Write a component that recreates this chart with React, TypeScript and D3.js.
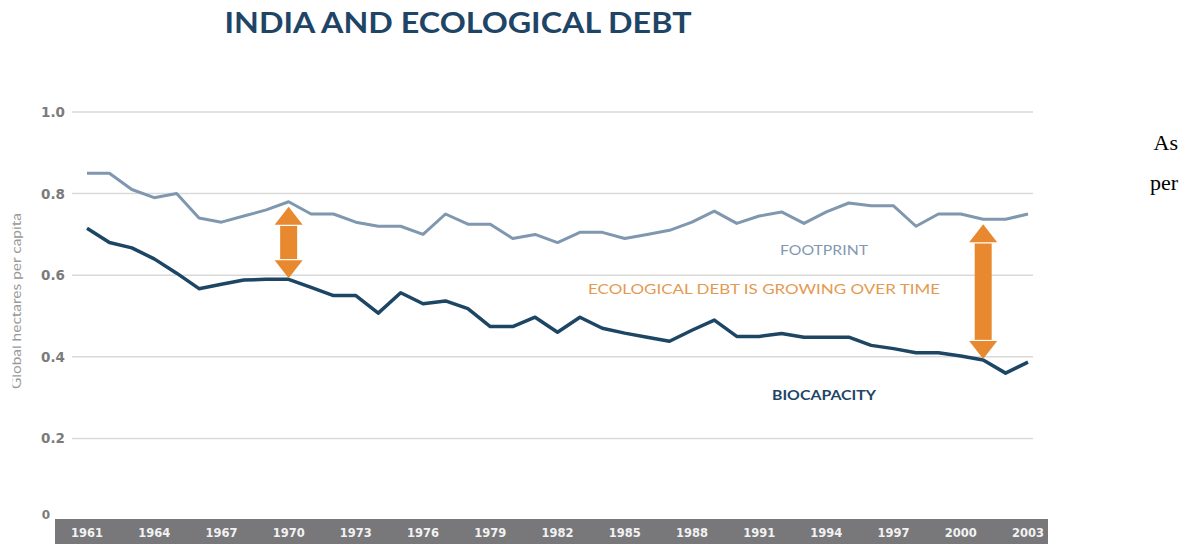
import React from "react";
import * as d3 from "d3";

const years: number[] = d3.range(1961, 2004);
const footprint: number[] = [
  0.85, 0.85, 0.81, 0.79, 0.8, 0.74, 0.73, 0.745, 0.76, 0.78,
  0.75, 0.75, 0.73, 0.72, 0.72, 0.7, 0.75, 0.725, 0.725, 0.69,
  0.7, 0.68, 0.705, 0.705, 0.69, 0.7, 0.71, 0.73, 0.757, 0.727,
  0.745, 0.755, 0.727, 0.755, 0.777, 0.77, 0.77, 0.72, 0.75, 0.75,
  0.737, 0.737, 0.75,
];
const biocapacity: number[] = [
  0.715, 0.68, 0.667, 0.64, 0.605, 0.567, 0.578, 0.588, 0.59, 0.59,
  0.57, 0.55, 0.55, 0.507, 0.557, 0.53, 0.537, 0.518, 0.474, 0.474,
  0.497, 0.46, 0.497, 0.47, 0.458, 0.448, 0.438, 0.465, 0.49, 0.45,
  0.45, 0.457, 0.448, 0.448, 0.448, 0.428, 0.42, 0.41, 0.41, 0.402,
  0.392, 0.36, 0.387,
];
const tickYears: number[] = d3.range(1961, 2004, 3);
const yTicks: number[] = [0.2, 0.4, 0.6, 0.8, 1.0];
const arrowYears: number[] = [1970, 2001];
const arrowTop: number[] = [0.78, 0.737];
const arrowBottom: number[] = [0.59, 0.392];

const W = 1185;
const H = 544;

export default function App() {
  const x = d3.scaleLinear().domain([1961, 2003]).range([87, 1028]);
  const y = d3.scaleLinear().domain([0, 1]).range([520, 112]);
  const line = d3
    .line<number>()
    .x((_, i) => x(years[i]))
    .y((d) => y(d));

  const arrow = (cx: number, yt: number, yb: number, key: number) => {
    const hh = 18;
    const hw = 14;
    const sw = 8.5;
    const gap = 1.2;
    return (
      <g key={key} fill="#e8892f">
        <polygon points={`${cx},${yt} ${cx - hw},${yt + hh} ${cx + hw},${yt + hh}`} />
        <rect x={cx - sw} y={yt + hh + gap} width={sw * 2} height={yb - yt - 2 * hh - 2 * gap} />
        <polygon points={`${cx},${yb} ${cx - hw},${yb - hh} ${cx + hw},${yb - hh}`} />
      </g>
    );
  };

  return (
    <svg
      width={W}
      height={H}
      style={{ position: "absolute", left: 0, top: 0, background: "#fff" }}
    >
      <defs>
        <clipPath id="ylab">
          <rect x={12.5} y={0} width={40} height={H} />
        </clipPath>
      </defs>
      <rect x={0} y={0} width={W} height={H} fill="#fff" />

      <text
        x={458}
        y={33}
        textAnchor="middle"
        fontFamily="Lato, sans-serif"
        fontWeight={700}
        fontSize={28}
        fill="#1f4566"
        textLength={467}
        lengthAdjust="spacingAndGlyphs"
      >
        INDIA AND ECOLOGICAL DEBT
      </text>

      {/* gridlines */}
      {yTicks.map((t) => (
        <line key={t} x1={72} x2={1033} y1={y(t)} y2={y(t)} stroke="#d9d9d9" strokeWidth={1.5} />
      ))}
      {yTicks.map((t) => (
        <text
          key={"l" + t}
          x={65}
          y={y(t) + 5}
          textAnchor="end"
          fontFamily="DejaVu Sans, sans-serif"
          fontWeight={700}
          fontSize={13.5}
          fill="#7b7b7b"
        >
          {t.toFixed(1)}
        </text>
      ))}
      <text
        x={50}
        y={519}
        textAnchor="end"
        fontFamily="DejaVu Sans, sans-serif"
        fontWeight={700}
        fontSize={12}
        fill="#7b7b7b"
      >
        0
      </text>

      <g clipPath="url(#ylab)">
        <text
          transform="translate(20.5,301) rotate(-90)"
          textAnchor="middle"
          fontFamily="Lato, sans-serif"
          fontSize={14}
          fill="#9a9a9a"
          textLength={176}
          lengthAdjust="spacingAndGlyphs"
        >
          Global hectares per capita
        </text>
      </g>

      {/* x axis bar */}
      <rect x={55} y={519} width={993} height={H - 519} fill="#78787b" />
      {tickYears.map((t) => (
        <text
          key={t}
          x={x(t)}
          y={537}
          textAnchor="middle"
          fontFamily="DejaVu Sans, sans-serif"
          fontWeight={700}
          fontSize={11.5}
          fill="#f2f2f2"
        >
          {t}
        </text>
      ))}

      {/* lines */}
      <path d={line(footprint) || ""} fill="none" stroke="#7f97af" strokeWidth={3} strokeLinejoin="round" />
      <path d={line(biocapacity) || ""} fill="none" stroke="#1c4664" strokeWidth={3.5} strokeLinejoin="round" />

      {/* arrows */}
      {arrowYears.map((yr, i) =>
        arrow(x(yr), y(arrowTop[i]) + 5, y(arrowBottom[i]) - 1, i)
      )}

      {/* annotations */}
      <text
        x={824}
        y={255}
        textAnchor="middle"
        fontFamily="Lato, sans-serif"
        fontSize={14}
        fill="#8198b0"
        textLength={88}
        lengthAdjust="spacingAndGlyphs"
      >
        FOOTPRINT
      </text>
      <text
        x={764}
        y={294}
        textAnchor="middle"
        fontFamily="Lato, sans-serif"
        fontSize={14}
        fill="#e39a50"
        textLength={352}
        lengthAdjust="spacingAndGlyphs"
      >
        ECOLOGICAL DEBT IS GROWING OVER TIME
      </text>
      <text
        x={824}
        y={400}
        textAnchor="middle"
        fontFamily="Lato, sans-serif"
        fontWeight={700}
        fontSize={14}
        fill="#1f4566"
        textLength={104}
        lengthAdjust="spacingAndGlyphs"
      >
        BIOCAPACITY
      </text>

      {/* stray page text */}
      <text x={1178} y={150} textAnchor="end" fontFamily="Liberation Serif, serif" fontSize={22} fill="#000">
        As
      </text>
      <text x={1178} y={190} textAnchor="end" fontFamily="Liberation Serif, serif" fontSize={22} fill="#000">
        per
      </text>
    </svg>
  );
}
